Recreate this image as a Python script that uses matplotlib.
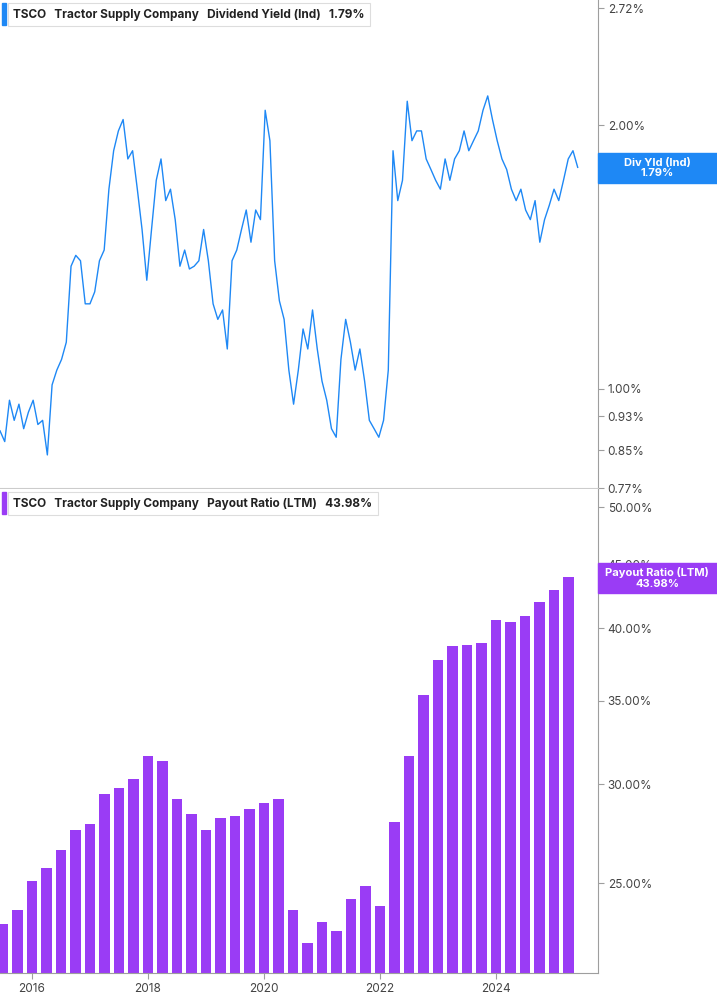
import numpy as np
import matplotlib
matplotlib.use("Agg")
import matplotlib.pyplot as plt
from matplotlib.patches import Rectangle
from matplotlib.ticker import FixedLocator, NullLocator

plt.rcParams["font.family"] = "Inter"

# Dividend yield (%) readings, roughly monthly from mid-2015 to mid-2025
yield_start, yield_end = 2015.45, 2025.41
yield_vals = [0.895, 0.87, 0.97, 0.92, 0.96, 0.90, 0.94, 0.97, 0.91, 0.92, 0.84, 1.01, 1.05, 1.08, 1.13,
              1.38, 1.42, 1.40, 1.25, 1.25, 1.29, 1.40, 1.44, 1.69, 1.87, 1.97, 2.03, 1.83, 1.87, 1.69,
              1.52, 1.33, 1.52, 1.73, 1.83, 1.64, 1.69, 1.56, 1.38, 1.44, 1.37, 1.38, 1.40, 1.52, 1.40,
              1.25, 1.20, 1.23, 1.11, 1.40, 1.44, 1.52, 1.60, 1.47, 1.60, 1.56, 2.08, 1.92, 1.40, 1.26,
              1.20, 1.05, 0.96, 1.05, 1.17, 1.11, 1.23, 1.11, 1.02, 0.97, 0.90, 0.88, 1.08, 1.20, 1.13,
              1.05, 1.11, 1.02, 0.92, 0.90, 0.88, 0.92, 1.05, 1.87, 1.64, 1.73, 2.13, 1.92, 1.97, 1.97,
              1.83, 1.78, 1.73, 1.69, 1.83, 1.73, 1.83, 1.87, 1.97, 1.87, 1.92, 1.97, 2.08, 2.16, 2.03,
              1.92, 1.83, 1.78, 1.69, 1.64, 1.69, 1.60, 1.56, 1.64, 1.47, 1.56, 1.62, 1.69, 1.64, 1.73,
              1.83, 1.87, 1.79]
yield_ticks = [0.77, 0.85, 0.93, 1.00, 2.00, 2.72]

# Payout ratio (%) quarterly
payout_start = 2015.5
payout_vals = [23.2, 23.8, 25.1, 25.7, 26.6, 27.6, 27.9, 29.5, 29.8, 30.3, 31.6, 31.3, 29.2, 28.4,
               27.6, 28.2, 28.3, 28.7, 29.0, 29.2, 23.8, 22.4, 23.3, 22.9, 24.3, 24.9, 24.0, 28.0,
               31.6, 35.4, 37.7, 38.7, 38.8, 38.9, 40.6, 40.5, 40.9, 42.0, 42.9, 43.98]
payout_ticks = [25, 30, 35, 40, 45, 50]
year_ticks = [2016, 2018, 2020, 2022, 2024]

BLUE = "#1e88f5"
PURPLE = "#9a3cf5"
W, H = 717, 1005
fig = plt.figure(figsize=(W / 100, H / 100), dpi=100)
xlim = (2015.45, 2025.76)

def ax_rect(l, t, r, b):
    return [l / W, 1 - b / H, (r - l) / W, (b - t) / H]

ax1 = fig.add_axes(ax_rect(0, 0, 598, 488))
ax2 = fig.add_axes(ax_rect(0, 489, 598, 973))

yx = np.linspace(yield_start, yield_end, len(yield_vals))
ax1.plot(yx, yield_vals, color=BLUE, lw=1.0)
ax1.set_yscale("log")
ax1.set_ylim(0.77, 2.78)

px = payout_start + 0.25 * np.arange(len(payout_vals))
ax2.bar(px, payout_vals, width=0.18, color=PURPLE)
ax2.set_yscale("log")
ax2.set_ylim(21.2, 51.7)

for ax in (ax1, ax2):
    ax.set_xlim(*xlim)
    ax.yaxis.tick_right()
    for s in ("top", "left"):
        ax.spines[s].set_visible(False)
    ax.spines["right"].set_color("#9e9e9e")
    ax.spines["bottom"].set_color("#9e9e9e")
    ax.yaxis.set_minor_locator(NullLocator())
    ax.tick_params(axis="y", length=4, color="#9e9e9e", labelsize=8.5, labelcolor="#444444", pad=3)

ax1.yaxis.set_major_locator(FixedLocator(yield_ticks))
ax1.set_yticklabels([f"{v:.2f}%" for v in yield_ticks])
ax1.set_xticks([])
ax1.spines["bottom"].set_color("#cccccc")

ax2.yaxis.set_major_locator(FixedLocator(payout_ticks))
ax2.set_yticklabels([f"{v:.2f}%" for v in payout_ticks])
ax2.set_xticks(year_ticks)
ax2.set_xticklabels([str(y) for y in year_ticks])
ax2.tick_params(axis="x", length=4, color="#9e9e9e", labelsize=8.5, labelcolor="#444444")

def legend(ax, color, label, value):
    ax.add_patch(Rectangle((0.004, 0.948), 0.006, 0.045, transform=ax.transAxes, color=color, clip_on=False))
    t = ax.text(0.022, 0.970, f"$\\bf{{TSCO}}$    ", transform=ax.transAxes, fontsize=8.5, va="center")
    ax.text(0.022, 0.970, f"TSCO   Tractor Supply Company   {label}   {value}",
            transform=ax.transAxes, fontsize=8.5, va="center", color="#222222", fontweight="bold",
            bbox=dict(boxstyle="square,pad=0.45", fc="white", ec="#dddddd", lw=0.8))
    t.remove()

legend(ax1, BLUE, "Dividend Yield (Ind)", "1.79%")
legend(ax2, PURPLE, "Payout Ratio (LTM)", "43.98%")

def value_box(top, color, text):
    fig.patches.append(Rectangle((598 / W, 1 - (top + 30) / H), 119 / W, 30 / H,
                                 transform=fig.transFigure, color=color))
    fig.text(657 / W, 1 - (top + 15) / H, text, color="white", fontsize=8, fontweight="bold",
             ha="center", va="center", linespacing=1.1)

value_box(153, BLUE, "Div Yld (Ind)\n1.79%")
value_box(563, PURPLE, "Payout Ratio (LTM)\n43.98%")

fig.savefig("out.png", dpi=100, facecolor="white")
